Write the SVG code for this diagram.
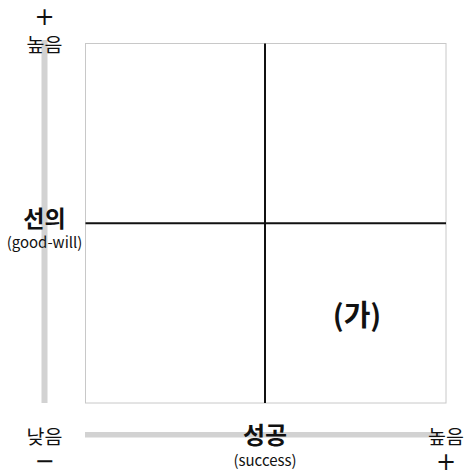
<svg xmlns="http://www.w3.org/2000/svg" width="465" height="474" viewBox="0 0 465 474">
<style>
text{font-family:"Noto Sans CJK KR","Noto Sans",sans-serif;fill:#111}
.lbl{font-size:19.5px}
.bold{font-weight:bold}
.sub{font-size:15px}
.sign{font-family:"DejaVu Sans",sans-serif;font-size:24px}
.bar{fill:#d2d2d2}
.axis{stroke:#111;stroke-width:2}
</style>
<rect width="465" height="474" fill="#fff"/>
<g id="axes-bars">
<rect class="bar" x="41.5" y="40" width="6" height="363"/>
<rect class="bar" x="85" y="432" width="355" height="5.5"/>
</g>
<g id="frame">
<rect x="85.5" y="43.5" width="360.5" height="359.5" fill="none" stroke="#c8c8c8" stroke-width="1"/>
</g>
<g id="connectors">
<line class="axis" x1="265" y1="43.5" x2="265" y2="403"/>
<line class="axis" x1="85.5" y1="223.3" x2="446" y2="223.3"/>
</g>
<g id="y-high"><text class="sign" x="44.5" y="25" text-anchor="middle">+</text><text class="lbl" x="44.5" y="52" text-anchor="middle">높음</text></g>
<g id="y-label"><text class="bold" font-size="23" x="44.5" y="227" text-anchor="middle">선의</text><text class="sub" x="44.5" y="248" text-anchor="middle">(good-will)</text></g>
<g id="y-low"><text class="lbl" x="44.5" y="444" text-anchor="middle">낮음</text><text class="sign" x="44.5" y="469" text-anchor="middle">−</text></g>
<g id="x-label"><text class="bold" font-size="24" x="265" y="444" text-anchor="middle">성공</text><text class="sub" font-size="16" x="265" y="466" text-anchor="middle">(success)</text></g>
<g id="x-high"><text class="lbl" x="446" y="444" text-anchor="middle">높음</text><text class="sign" x="446" y="470" text-anchor="middle">+</text></g>
<g id="quadrant"><text class="bold" font-size="29" x="357" y="326" text-anchor="middle">(가)</text></g>
</svg>
